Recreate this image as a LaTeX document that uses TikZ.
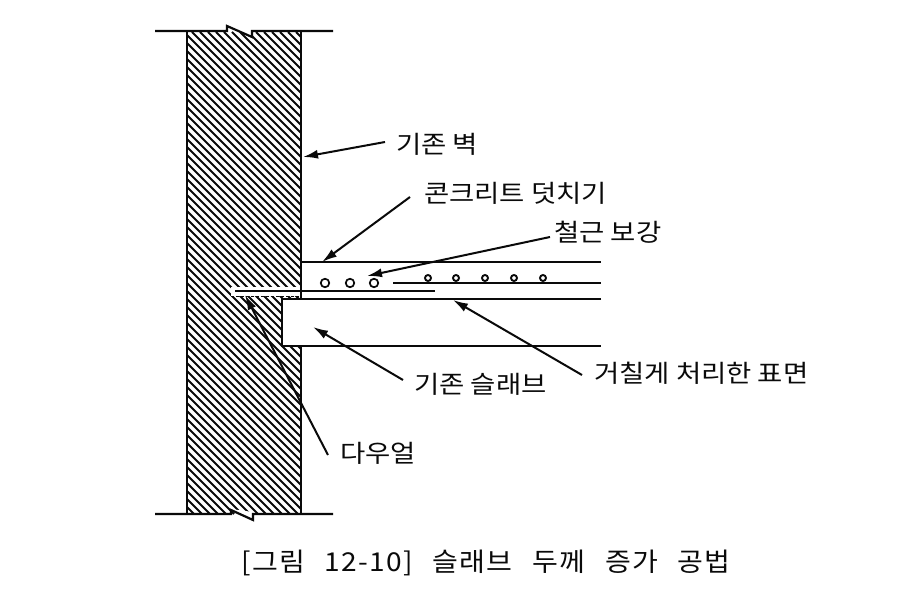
\documentclass[tikz,border=0pt]{standalone}
\usepackage{fontspec}
\setmainfont{Noto Sans CJK KR}
\newfontfamily\labelfont[FakeStretch=1.12]{Noto Sans CJK KR}
\newfontfamily\captionfont[FakeStretch=1.08,LetterSpace=5,WordSpace=2.6]{Noto Sans CJK KR}
\usepackage{xcolor}
\usetikzlibrary{arrows.meta,positioning}
\definecolor{myblack}{RGB}{10,10,10}
\begin{document}
\begin{tikzpicture}[x=1pt,y=-1pt]
    \tikzstyle{outline}=[draw=myblack, line width=2.2pt]
    \tikzstyle{hatch}=[myblack, line width=2pt]
    \tikzstyle{leader}=[-{Latex[length=15pt,width=9pt]}, draw=myblack, line width=2pt]
    \tikzstyle{label}=[inner sep=0pt, anchor=west, text=myblack, font=\labelfont\fontsize{24.5}{28}\selectfont]
    \tikzstyle{bigbar}=[circle, draw=myblack, line width=1.7pt, minimum size=8.5pt, inner sep=0pt]
    \tikzstyle{smallbar}=[circle, draw=myblack, line width=1.9pt, minimum size=6pt, inner sep=0pt]
    \useasboundingbox (0,0) rectangle (916,596);
    % wall
    \begin{scope}
      \clip (187,32) rectangle (301,514);
      \foreach \s in {-480,-472,...,300}
        \draw[hatch] (\s,32) -- (\s+482,514);
    \end{scope}
    \draw[outline] (187,32) -- (187,514);
    \draw[outline] (301,32) -- (301,514);
    % breaks
    \fill[white] (227,26) -- (252,37) -- (252,31) -- cycle;
    \fill[white] (231,509) -- (253,520) -- (253,512) -- cycle;
    \draw[outline] (155,31) -- (227,31) -- (227,26) -- (252,37) -- (252,31) -- (333,31);
    \draw[outline] (155,514) -- (231,514) -- (231,510) -- (253,520) -- (253,514) -- (333,514);
    % dowel pocket and slab
    \fill[white] (231,287) rectangle (300,296);
    \draw[myblack, line width=1.5pt, dash pattern=on 3pt off 2pt] (231,296.5) -- (301,296.5);
    \fill[white] (283,299) rectangle (601,346);
    \draw[outline] (601,299) -- (282,299) -- (282,346) -- (601,346);
    \draw[outline] (301,262) -- (601,262);
    \draw[outline] (393,283) -- (601,283);
    \draw[outline] (235,291) -- (435,291);
    % bars
    \foreach \x/\n in {325/1,350/2,374/3}
      \node[bigbar] (big\n) at (\x,283) {};
    \foreach \x/\n in {428/1,456/2,485/3,514/4,543/5}
      \node[smallbar] (small\n) at (\x,278) {};
    % labels
    \node[label] (wall) at (396,144) {기존 벽};
    \node[label] (topping) at (424,193) {콘크리트 덧치기};
    \node[label] (rebar) at (554,232) {철근 보강};
    \node[label] (rough) at (594,373) {거칠게 처리한 표면};
    \node[label] (slab) at (414,384) {기존 슬래브};
    \node[label] (dowel) at (340,453) {다우얼};
    \node[inner sep=0pt, text=myblack, font=\captionfont\fontsize{26}{28}\selectfont] (caption) at (486,563) {[그림 12-10] 슬래브 두께 증가 공법};
    % arrow tips
    \coordinate (wallTip) at (303,157);
    \coordinate (toppingTip) at (322,262);
    \coordinate (rebarTip) at (367,276);
    \coordinate (roughTip) at (453,300);
    \coordinate (slabTip) at (313,327);
    \coordinate (dowelTip) at (245,295);
    \draw[leader] (wall.west) ++(-11,-2) -- (wallTip);
    \draw[leader] (topping.west) ++(-14,4) -- (toppingTip);
    \draw[leader] (rebar.west) ++(-4,5) -- (rebarTip);
    \draw[leader] (rough.west) ++(-12,2) -- (roughTip);
    \draw[leader] (slab.west) ++(-11,-4) -- (slabTip);
    \draw[leader] (dowel.west) ++(-12,2) -- (dowelTip);
  \end{tikzpicture}
\end{document}
